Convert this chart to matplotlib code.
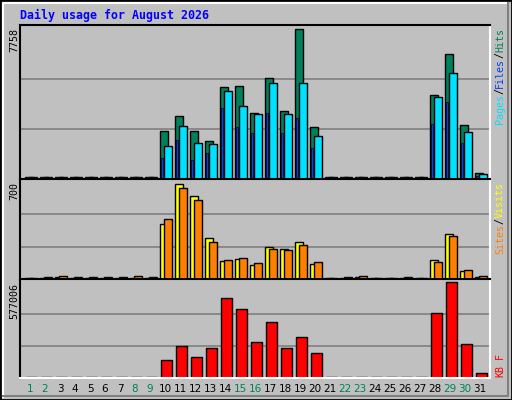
import matplotlib.pyplot as plt
from matplotlib.patches import Rectangle
from matplotlib.lines import Line2D

days = list(range(1, 32))
hits = [0]*8 + [80, 2516, 3250, 2516, 1992, 4770, 4822, 3407, 5242, 3512, 7758, 2673] + [0]*7 + [4350, 6500, 2778, 314]
files = [0]*8 + [40, 1100, 2044, 996, 1363, 3670, 2673, 2411, 3407, 2411, 3146, 1626] + [0]*7 + [2830, 4000, 1890, 150]
pages = [0]*8 + [60, 1730, 2725, 1887, 1835, 4560, 3774, 3355, 4980, 3355, 4980, 2254] + [0]*7 + [4246, 5504, 2464, 260]
visits = [0, 8, 15, 8, 8, 8, 8, 8, 8, 395, 685, 596, 298, 127, 141, 104, 231, 214, 266, 109,
          0, 0, 15, 0, 0, 8, 0, 134, 325, 57, 15]
sites = [0, 15, 22, 15, 15, 15, 15, 22, 15, 432, 655, 566, 268, 134, 149, 112, 216, 206, 246, 124,
         0, 15, 22, 0, 0, 15, 0, 126, 313, 67, 22]
kbytes = [0]*9 + [108000, 190000, 127000, 178000, 482000, 412000, 214000, 334000, 182000, 245000, 150000,
                  0, 0, 0, 0, 0, 0, 0, 391000, 575000, 207000, 30000]
weekend = [1, 2, 8, 9, 15, 16, 22, 23, 29, 30]
max_hits, max_sites, max_kb = 7758, 700, 577006

W, H = 512, 400
BG = '#c0c0c0'
mono = 'DejaVu Sans Mono'

fig = plt.figure(figsize=(W/100, H/100), dpi=100, facecolor=BG)

def fx(px): return px / W
def fy(py): return 1 - py / H

# outer border and bevel
fig.patches.append(Rectangle((0, 0), 1, 1, transform=fig.transFigure, fill=False, ec='black', lw=2))
fig.add_artist(Line2D([fx(3), fx(3), fx(508)], [fy(397), fy(3), fy(3)], color='white', lw=1.5))
fig.add_artist(Line2D([fx(3), fx(508), fx(508)], [fy(396), fy(396), fy(3)], color='#808080', lw=1.5))

fig.text(fx(20), fy(15), 'Daily usage for August 2026', color='#0000ff', family=mono,
         fontweight='bold', fontsize=8.4, va='center')

def panel(top, bot, ymax):
    ax = fig.add_axes([fx(20), fy(bot), fx(490) - fx(20), fy(top) - fy(bot)])
    ax.set_facecolor(BG)
    ax.set_xlim(0.33, 31.67)
    ax.set_ylim(0, ymax * 1.03)
    for s in ax.spines.values():
        s.set_linewidth(1.5)
    ax.spines['bottom'].set_color('white')
    ax.spines['right'].set_color('white')
    ax.set_xticks([])
    ax.set_yticks([])
    for g in (1/3, 2/3):
        ax.axhline(ymax * g, color='#808080', lw=1.2, zorder=0)
    return ax

def bars(ax, vals, off, width, color, ymax, lw=1.0):
    mn = ymax * 0.012
    ax.bar([d + off for d in days], [max(v, mn) for v in vals], width=width,
           color=color, edgecolor='black', linewidth=lw, align='edge')

ax1 = panel(25, 179, max_hits)
bars(ax1, hits, -0.31, 0.49, '#00805c', max_hits)
bars(ax1, files, -0.25, 0.13, '#0040ff', max_hits, lw=0.5)
bars(ax1, pages, -0.07, 0.52, '#00e0ff', max_hits)

ax2 = panel(179, 279, max_sites)
bars(ax2, visits, -0.31, 0.5, '#ffff00', max_sites)
bars(ax2, sites, -0.05, 0.5, '#ff8000', max_sites)

ax3 = panel(279, 378, max_kb)
bars(ax3, kbytes, -0.27, 0.72, '#ff0000', max_kb)

# left max labels
for txt, y in [(str(max_hits), 28), (str(max_sites), 182), (str(max_kb), 283)]:
    fig.text(fx(14), fy(y), txt, rotation=90, family=mono, fontsize=7.2, ha='center', va='top')

# right legends, read bottom-to-top; pieces listed from top downward
cw = 6.0
def side(parts, ytop):
    y = ytop
    for txt, col in parts:
        fig.text(fx(500), fy(y), txt, rotation=90, family=mono, fontsize=7.2,
                 color=col, ha='center', va='top')
        y += cw * len(txt)

side([('Hits', '#00805c'), ('/', 'black'), ('Files', '#0040ff'), ('/', 'black'), ('Pages', '#00e0ff')], 28)
side([('Visits', '#ffff00'), ('/', 'black'), ('Sites', '#ff8000')], 182)
side([('F', '#ff0000'), (' ', 'black'), ('KB', '#ff0000')], 353)

for d in days:
    col = '#00805c' if d in weekend else 'black'
    fig.text(fx(30 + 15 * (d - 1)), fy(389), str(d), color=col, fontsize=7.5, ha='center', va='center')

fig.savefig('out.png', dpi=100, facecolor=BG)
